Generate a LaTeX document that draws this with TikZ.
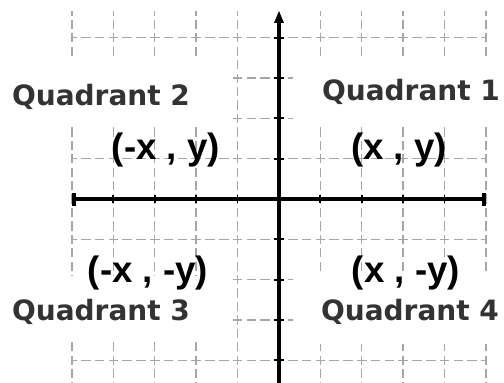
\documentclass[tikz,border=0pt]{standalone}
\usepackage{fontspec}
\newfontfamily\quadfont{DejaVu Sans}
\newfontfamily\pairfont{Liberation Sans}
\usetikzlibrary{arrows.meta}

\tikzset{
  hgrid/.style={black!35, line width=1.4pt, dash pattern=on 9.5pt off 4.3pt, dash phase=4.75pt},
  vgrid/.style={black!35, line width=1.4pt, dash pattern=on 9.2pt off 4.23pt, dash phase=4.6pt},
  quadlabel/.style={anchor=base, inner sep=0pt, text=black!80, font=\quadfont\bfseries\fontsize{28}{30}\selectfont},
  pairlabel/.style={inner sep=0pt, font=\pairfont\bfseries\fontsize{36.7}{40}\selectfont},
}

\begin{document}
\begin{tikzpicture}[x=1pt, y=1pt]
    \useasboundingbox (-279,-184) rectangle (225,199);

    % grid
    \begin{scope}
        \clip (-279,-184) rectangle (225,187);
        \foreach \i in {-5,-4,-3,-2,-1,1,2,3,4,5}
            \draw[vgrid] (\i*41.4,-201.5) -- (\i*41.4,201.5);
        \foreach \j in {-4,-3,-2,-1,1,2,3,4}
            \draw[hgrid] (-207,\j*40.3) -- (207,\j*40.3);
    \end{scope}

    % white space behind the quadrant names
    \fill[white] (-279,72) rectangle (-46,139);
    \fill[white] (14,72) rectangle (225,139);
    \fill[white] (-279,-143) rectangle (-46,-77);
    \fill[white] (14,-145) rectangle (225,-76);

    % axes
    \draw[line width=3.6pt] (0,-184) -- (0,178);
    \fill (0,188) -- (-5,176) -- (5,176) -- cycle;
    \draw[line width=4pt, {Bar[width=13pt]}-{Bar[width=13pt]}] (-207,0) -- (207,0);
    \foreach \i in {-4,-3,-2,-1,1,2,3,4}
        \draw[line width=1.8pt] (\i*41.4,-4) -- (\i*41.4,4);
    \foreach \j in {-4,-3,-2,-1,1,2,3,4}
        \draw[line width=1.8pt] (-5,\j*40.3) -- (5,\j*40.3);

    % quadrant names
    \node[quadlabel] (q2) at (-178,93) {Quadrant 2};
    \node[quadlabel] (q1) at (132,98) {Quadrant 1};
    \node[quadlabel] (q3) at (-178,-121) {Quadrant 3};
    \node[quadlabel] (q4) at (131,-121) {Quadrant 4};

    % signs of the coordinates
    \node[pairlabel] (p2) at (-113,49) {(-x , y)};
    \node[pairlabel] (p1) at (120,49) {(x , y)};
    \node[pairlabel] (p3) at (-131,-74) {(-x , -y)};
    \node[pairlabel] (p4) at (127,-74) {(x , -y)};
\end{tikzpicture}
\end{document}
